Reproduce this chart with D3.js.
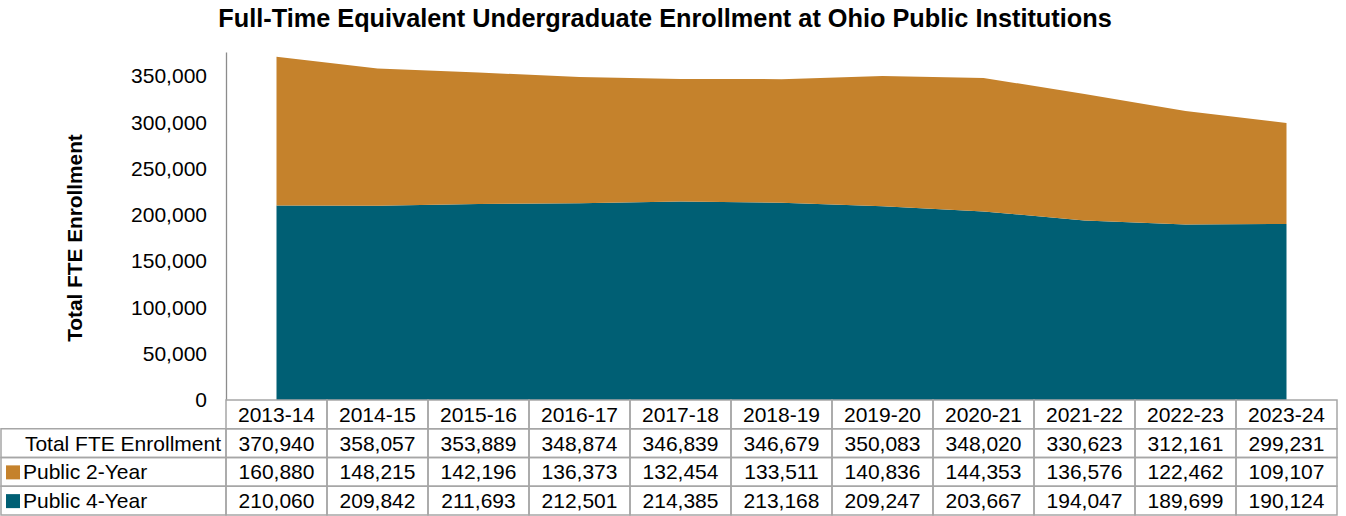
<!DOCTYPE html>
<html>
<head>
<meta charset="utf-8">
<script src="https://cdn.jsdelivr.net/npm/d3@7"></script>
<style>
  body { margin: 0; background: #fff; }
  svg { display: block; font-family: "Liberation Sans", Arial, sans-serif; }
</style>
</head>
<body>
<svg id="svg" width="1346" height="516"></svg>
<script>
// DATA
var years = ["2013-14", "2014-15", "2015-16", "2016-17", "2017-18", "2018-19",
  "2019-20", "2020-21", "2021-22", "2022-23", "2023-24"];
var totalFTE = [370940, 358057, 353889, 348874, 346839, 346679, 350083, 348020, 330623, 312161, 299231];
var public2Year = [160880, 148215, 142196, 136373, 132454, 133511, 140836, 144353, 136576, 122462, 109107];
var public4Year = [210060, 209842, 211693, 212501, 214385, 213168, 209247, 203667, 194047, 189699, 190124];
var yTicks = [0, 50000, 100000, 150000, 200000, 250000, 300000, 350000];

var colors = { p2: "#c5822c", p4: "#005f74" };
var gridColor = "#a6a6a6";

var svg = d3.select("#svg");
var fmt = d3.format(",");

// SCALES
var x = d3.scaleBand().domain(years).range([226, 1337]).paddingInner(0).paddingOuter(0);
var y = d3.scaleLinear().domain([0, 376000]).range([400, 52]);
var rows = d3.scaleBand().domain(["header", "total", "p2", "p4"]).range([400, 515]);

function cx(d) { return x(d) + x.bandwidth() / 2; }

// stacked areas
var stackData = years.map(function (yr, i) {
  return { year: yr, p4: public4Year[i], p2: public2Year[i] };
});
var series = d3.stack().keys(["p4", "p2"])(stackData);

var area = d3.area()
  .x(function (d) { return cx(d.data.year); })
  .y0(function (d) { return y(d[0]); })
  .y1(function (d) { return y(d[1]); });

svg.append("g").selectAll("path")
  .data(series)
  .enter().append("path")
  .attr("fill", function (d) { return colors[d.key]; })
  .attr("d", area);

// y axis
var yAxis = svg.append("g")
  .attr("transform", "translate(226,0)")
  .call(d3.axisLeft(y).tickValues(yTicks).tickSize(0).tickPadding(19).tickFormat(fmt));
yAxis.select(".domain").attr("stroke", "#8c8c8c").attr("stroke-width", 1.3);
yAxis.selectAll("text")
  .attr("font-size", "21px")
  .attr("fill", "#000")
  .style("font-family", "Liberation Sans, Arial, sans-serif");

// title
svg.append("text")
  .attr("x", 665)
  .attr("y", 27)
  .attr("text-anchor", "middle")
  .attr("font-size", "25.3px")
  .attr("font-weight", "bold")
  .text("Full-Time Equivalent Undergraduate Enrollment at Ohio Public Institutions");

svg.append("text")
  .attr("transform", "translate(82,238) rotate(-90)")
  .attr("text-anchor", "middle")
  .attr("font-size", "20.8px")
  .attr("font-weight", "bold")
  .text("Total FTE Enrollment");

// DATA TABLE
var table = svg.append("g");
var rowH = rows.bandwidth();

// header row cells
table.selectAll(".hdr")
  .data(years)
  .enter().append("rect")
  .attr("class", "hdr")
  .attr("x", function (d) { return x(d); })
  .attr("y", rows("header"))
  .attr("width", x.bandwidth())
  .attr("height", rowH)
  .attr("fill", "none")
  .attr("stroke", gridColor)
  .attr("stroke-width", 1.5);

table.selectAll(".hdrText")
  .data(years)
  .enter().append("text")
  .attr("x", cx)
  .attr("y", rows("header") + rowH / 2)
  .attr("dy", "0.36em")
  .attr("text-anchor", "middle")
  .attr("font-size", "21px")
  .text(function (d) { return d; });

var tableRows = [
  { key: "total", label: "Total FTE Enrollment", values: totalFTE, swatch: null },
  { key: "p2", label: "Public 2-Year", values: public2Year, swatch: colors.p2 },
  { key: "p4", label: "Public 4-Year", values: public4Year, swatch: colors.p4 }
];

tableRows.forEach(function (r) {
  var ry = rows(r.key);
  table.append("rect")
    .attr("x", 1).attr("y", ry)
    .attr("width", 225).attr("height", rowH)
    .attr("fill", "none").attr("stroke", gridColor).attr("stroke-width", 1.5);

  if (r.swatch) {
    table.append("rect")
      .attr("x", 6).attr("y", ry + rowH / 2 - 6.5)
      .attr("width", 14).attr("height", 14)
      .attr("fill", r.swatch);
    table.append("text")
      .attr("x", 23).attr("y", ry + rowH / 2).attr("dy", "0.36em")
      .attr("font-size", "21px")
      .text(r.label);
  } else {
    table.append("text")
      .attr("x", 221).attr("y", ry + rowH / 2).attr("dy", "0.36em")
      .attr("text-anchor", "end")
      .attr("font-size", "21px")
      .text(r.label);
  }

  table.selectAll(".cell-" + r.key)
    .data(years)
    .enter().append("rect")
    .attr("x", function (d) { return x(d); })
    .attr("y", ry)
    .attr("width", x.bandwidth())
    .attr("height", rowH)
    .attr("fill", "none")
    .attr("stroke", gridColor)
    .attr("stroke-width", 1.5);

  table.selectAll(".val-" + r.key)
    .data(r.values)
    .enter().append("text")
    .attr("x", function (d, i) { return cx(years[i]); })
    .attr("y", ry + rowH / 2)
    .attr("dy", "0.36em")
    .attr("text-anchor", "middle")
    .attr("font-size", "21px")
    .text(function (d) { return fmt(d); });
});
</script>
</body>
</html>
